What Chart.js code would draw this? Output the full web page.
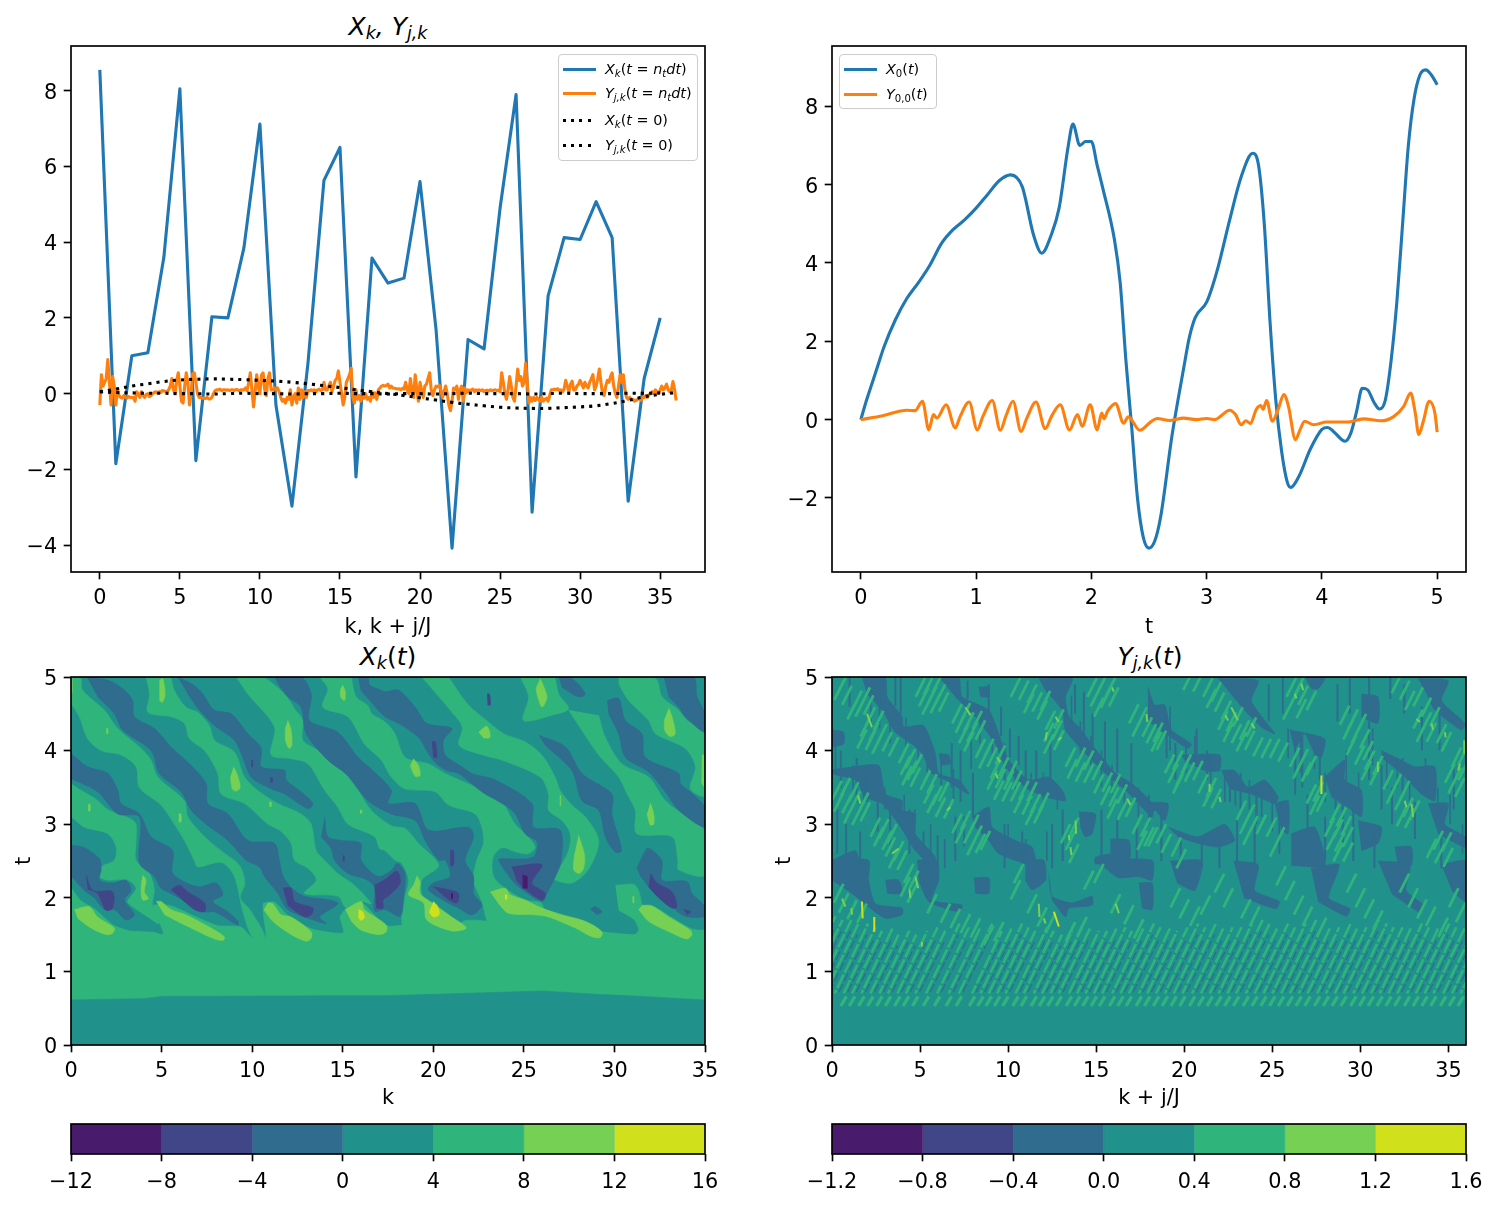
<!DOCTYPE html>
<html><head><meta charset="utf-8">
<script src="https://cdn.jsdelivr.net/npm/chart.js@4"></script>
<style>
html,body{margin:0;padding:0;background:#fff;width:1497px;height:1205px;overflow:hidden;font-family:"DejaVu Sans",sans-serif;color:#000}
canvas{position:absolute}
.ttl{position:absolute;font-size:25px;line-height:30px;text-align:center;white-space:nowrap;transform:translateX(-50%)}
.ttl sub,.lg sub{font-size:70%;line-height:0;vertical-align:-0.25em}
.box{position:absolute;box-sizing:border-box;background:rgba(255,255,255,.8);border:1.5px solid #ccc;border-radius:4px}
.lg{position:absolute;font-size:14.4px;line-height:16px;white-space:nowrap}
.hd{position:absolute;height:3px}
</style></head><body>
<div class="ttl" style="left:388px;top:12px"><i>X<sub>k</sub>, Y<sub>j,k</sub></i></div>
<div class="ttl" style="left:388px;top:642px"><i>X<sub>k</sub></i>(<i>t</i>)</div>
<div class="ttl" style="left:1150px;top:642px"><i>Y<sub>j,k</sub></i>(<i>t</i>)</div>
<script>
// ---------- top-left panel ----------
const xkFinal=[8.55,-1.85,1.0,1.08,3.6,8.05,-1.77,2.03,2.0,3.85,7.12,-0.3,-2.97,0.8,5.63,6.5,-2.2,3.58,2.92,3.05,5.6,1.7,-4.08,1.43,1.18,4.9,7.9,-3.13,2.58,4.12,4.07,5.07,4.12,-2.84,0.4,2.0];
const yjkFinal=[-.3,.5,.2,.3,.4,.9,.3,-.3,.45,.2,
-.3,.1,-.05,-.1,-.12,-.05,-.1,-.12,-.08,-.1,
-.1,-.1,-.2,.05,0,-.1,.05,-.05,-.1,-.02,
0,-.08,-.05,0,.03,.05,.02,.05,.03,.08,
.07,.06,.05,.1,.2,.4,.1,0,.35,.55,
.2,-.2,-.25,.2,.55,.3,-.3,0,.53,.55,
.3,0,-.1,-.1,-.12,-.12,-.13,-.1,-.14,-.14,
-.1,0,.08,.1,.1,.12,.08,.1,.1,.09,
.1,.08,.1,.1,.08,.11,.1,.08,.1,.1,
.1,.15,.08,.3,.55,.1,-.35,.05,.5,.2,
0,.5,.55,.1,-.05,.4,.55,.1,.1,.15,
.1,.15,.05,-.1,-.2,-.15,-.25,-.1,-.15,.1,
-.3,-.1,0,-.25,.15,-.15,.1,-.1,.05,-.1,
.08,.08,.1,.07,.1,.05,.1,.12,.08,.1,
.3,.1,.1,.2,.3,.05,.2,.35,.4,.6,
.3,0,-.3,-.1,.3,.4,.5,.67,-.1,-.25,
.1,-.15,-.05,-.2,-.1,-.12,0,-.15,-.1,-.2,
.05,-.1,.02,-.15,.1,.15,.2,.22,.2,.22,
.25,.15,.2,.15,.14,.13,.12,.13,.1,.14,
.12,.3,.1,0,.4,.05,-.1,.5,.1,-.2,
.3,.1,-.1,.2,.25,.4,.55,.1,-.05,.1,
.2,.18,.22,.1,-.1,.05,.2,0,-.3,-.45,
-.2,.15,.1,.2,-.15,.1,.2,-.2,.15,.02,
.1,.05,.1,.12,.05,.1,.07,.1,.08,.1,
.05,.08,.09,.07,.1,.08,.09,.1,.08,.09,
.05,.55,.3,0,-.15,.1,.45,.2,-.1,-.2,
.2,.65,.35,.45,.2,.3,.8,.3,-.25,-.1,
-.2,-.1,-.18,-.1,-.15,-.2,-.1,-.2,-.15,-.12,
-.2,-.05,.1,.1,.12,.1,.13,.08,.1,.05,
.12,.35,.2,.05,.25,.33,.1,.1,.2,.25,
.35,.25,.15,.3,.2,.15,.3,.4,.5,.1,
.2,.4,.65,.3,0,-.05,.2,.35,.3,.45,
.55,.2,0,-.1,.2,.5,.3,.5,.1,-.1,
-.15,-.1,-.15,-.15,-.2,-.18,-.15,-.12,-.18,-.1,
-.1,-.05,-.1,-.03,0,.05,0,.1,.05,0,
.1,.2,.1,.15,.25,.1,.05,.1,.32,.1,
-.18];
const xkInitial=[.05,.03,.02,.01,.01,0,0,-.01,0,.01,0,0,-.01,0,0,.01,0,0,-.01,0,0,-.01,0,.01,0,0,0,-.01,0,.01,0,0,0,.01,.01,.02];
const yjkInitial=[.05,.12,.2,.26,.32,.36,.38,.39,.38,.37,.35,.33,.3,.26,.21,.16,.1,.05,0,-.05,-.11,-.17,-.23,-.28,-.32,-.36,-.38,-.39,-.39,-.37,-.35,-.32,-.26,-.18,-.08,-.02,.03];
// ---------- top-right panel ----------
const tX0=[0,.05,.1,.15,.2,.3,.4,.5,.6,.7,.8,.9,1,1.1,1.2,1.3,1.4,1.5,1.57,1.65,1.72,1.8,1.84,1.9,1.95,2,2.05,2.1,2.2,2.25,2.3,2.35,2.4,2.45,2.5,2.55,2.6,2.7,2.8,2.85,2.9,3,3.05,3.1,3.2,3.3,3.4,3.45,3.5,3.55,3.6,3.65,3.7,3.73,3.8,3.9,4,4.05,4.1,4.2,4.25,4.3,4.35,4.4,4.45,4.5,4.55,4.6,4.65,4.7,4.75,4.8,4.85,4.9,4.95,5];
const x0Series=[0,.5,.95,1.4,1.85,2.55,3.1,3.5,3.95,4.5,4.85,5.1,5.4,5.75,6.1,6.25,5.95,4.7,4.25,4.7,5.4,7,7.55,7,7.1,7.1,6.5,5.9,4.6,3.5,1.5,-.2,-2,-3,-3.28,-3.1,-2.5,-.4,1.3,2.1,2.6,3,3.4,3.9,5.1,6.2,6.8,6.5,5,2.5,.5,-.8,-1.6,-1.73,-1.45,-.75,-.25,-.2,-.3,-.55,-.35,.2,.8,.75,.45,.27,.5,1.5,3,5,7,8.2,8.8,8.93,8.8,8.55];
const tY0=[0,.19,.4,.47,.535,.59,.63,.66,.74,.82,.86,.94,1.01,1.06,1.14,1.21,1.26,1.32,1.39,1.44,1.52,1.6,1.655,1.73,1.81,1.88,1.92,1.99,2.05,2.09,2.11,2.14,2.21,2.28,2.32,2.42,2.51,2.57,2.68,2.8,2.91,3,3.07,3.2,3.25,3.3,3.34,3.38,3.43,3.47,3.49,3.52,3.57,3.62,3.67,3.71,3.77,3.81,3.85,3.93,4.04,4.22,4.36,4.51,4.62,4.71,4.77,4.81,4.84,4.88,4.93,4.98,5];
const y0Series=[0,.1,.24,.23,.47,-.26,.13,.04,.38,-.21,.07,.45,-.26,.09,.49,-.27,.1,.47,-.3,.04,.45,-.23,.09,.38,-.26,.13,-.17,.38,-.26,.17,.02,.21,.41,-.09,.07,-.27,-.07,.03,-.02,.04,0,.03,0,.24,.13,-.13,-.03,-.1,.26,.36,.26,.49,-.04,.26,.64,.34,-.51,-.26,-.04,-.13,-.06,-.06,.02,-.03,.07,.34,.68,.17,-.38,-.04,.47,.17,-.32];
// ---------- ticks and colour scale ----------
const ticksTLx=[0,5,10,15,20,25,30,35], ticksTLy=[-4,-2,0,2,4,6,8];
const ticksTRx=[0,1,2,3,4,5], ticksTRy=[-2,0,2,4,6,8];
const ticksKt=[0,1,2,3,4,5];
const levelsX=[-12,-8,-4,0,4,8,12,16];
const levelsY=[-1.2,-.8,-.4,0,.4,.8,1.2,1.6];
const levelLabelsY=['−1.2','−0.8','−0.4','0.0','0.4','0.8','1.2','1.6'];
const viridisBands=['#481b6d','#404688','#2f6c8e','#21918c','#2fb47c','#75d054','#d0e11c'];
const [cD,cI,cB,cT,cG,cL,cY]=viridisBands;
// ---------- X_k(t) contour regions (k,t pairs) ----------
const xAll=[0,0,35,0,35,5,0,5];
const xTealUpper=[0,2.15,.55,1.97,1.29,1.86,1.84,1.74,2.39,1.63,3.22,1.56,4.6,1.54,5.06,1.51,4.88,1.65,4.5,1.9,5.52,1.9,7,1.74,8.1,1.63,9.39,1.61,10.04,1.46,10.72,1.46,10.6,1.74,10.6,1.93,11.23,1.95,11.97,1.77,13.26,1.59,15,1.53,14.82,1.74,15.19,1.86,16,1.95,17.4,1.63,18.63,1.65,18.9,1.68,19.55,1.7,21,1.59,21.76,1.7,23.23,1.7,23.14,1.83,23.6,1.74,26.18,1.77,27.65,1.65,29.31,1.55,31.15,1.51,31.34,1.59,31.24,1.83,32.07,1.9,33.18,1.74,34.28,1.585,35,1.585,35,5,0,5];
const xTealLower=[0,0,35,0,35,.61,33,.64,31.15,.665,29,.69,26,.734,22.9,.71,17.34,.67,15,.67,5,.66,4,.63,0,.612];
const gA=[0,3.55,.55,3.46,1.38,3.34,2.03,3.2,3.22,3.08,3.59,3,3.59,2.74,3.59,2.51,4.33,2.33,4.6,2.11,4.5,1.9,4.88,1.65,4.24,1.74,3.4,1.88,3.13,1.95,3.59,2.13,3.13,2.24,2.03,2.24,1.57,2.29,1.66,2.42,2.39,2.51,2.49,2.69,2.03,2.87,.74,2.96,0,3.1];
const gB=[0,5,.52,5,.64,4.82,1.84,4.55,2.58,4.3,3.87,4.03,4.42,3.87,4.79,3.64,6.26,3.32,6.45,3.1,7.37,2.83,8.29,2.64,9.3,2.44,9.6,2.2,9.35,2,9.9,1.83,10.72,1.46,10.04,1.46,9.5,1.8,9,2.3,8.3,2.48,7,2.42,6.8,2.51,6.26,2.78,5.7,3,4.97,3.26,3.77,3.5,3.59,3.78,2.76,3.94,1.66,4,.92,4.16,.46,4.46,0,4.64];
const gC=[4.14,5,4.33,4.77,4.24,4.52,5.52,4.46,6.26,4.37,6.54,4.16,7.37,4,8.1,3.69,8.29,3.41,9.58,3.28,10.87,3,11.5,2.92,12.15,2.74,12.34,2.51,13.08,2.4,13.54,2.24,12.89,2.06,14.73,2.02,15.19,1.86,16,1.95,16.57,1.92,15.65,2.17,14.73,2.33,14,2.51,13.54,2.64,13.26,3,12.7,3.14,11.42,3.28,10.3,3.46,9.58,3.64,9.02,3.98,7.92,4.14,7.64,4.34,7,4.52,6.35,4.59,5.7,4.82,5.52,5];
const gD=[9.12,5,9.76,4.77,11.23,4.32,11.05,3.94,12.15,3.89,13.08,3.82,14,3.46,14.73,3.23,15.29,3,16.76,2.83,17.03,2.67,17.34,2.64,17.89,2.51,18.26,2.47,18.63,2.24,18.44,2,18.4,1.6,21.76,1.55,20.1,1.74,19.46,1.97,19.37,2.24,20.3,2.44,19.18,2.74,18.44,2.94,17.68,2.98,16.57,3.19,15.84,3.46,14.73,3.8,13.81,3.98,12.8,4.14,12.8,4.41,12.34,4.57,11.79,4.77,10.77,4.98,10.6,5];
const gE=[13.72,5,14.18,4.84,13.9,4.59,15.29,4.46,16.2,4.09,17.13,3.87,17.68,3.64,18.44,3.48,20.1,3.44,20.84,3.26,22.31,3.14,22.68,2.96,22.77,2.74,22.4,2.51,22.22,2.24,22.68,1.95,23.23,1.6,26,1.6,26,1.92,25.07,1.97,23.97,2.13,23.33,2.29,23.3,2.55,23.8,2.68,24.6,2.62,25.26,2.6,25.63,2.69,25.07,2.87,24.52,3,23.6,3.37,22.31,3.51,20.66,3.69,19.73,3.82,18.44,3.91,17.89,4.23,17.34,4.39,16.6,4.5,16.39,4.61,15.74,4.73,15.47,5];
const gF=[19.37,5,20,4.82,20.93,4.55,21.6,4.32,21.43,4.07,22.87,3.93,23.8,3.87,25.9,3.64,26.36,3.41,26.36,3.19,27.1,3.05,27.56,2.87,27.47,2.64,26.9,2.38,26.55,2.27,27.65,2.2,28.6,2.4,29.13,2.78,28.39,3.1,27.65,3.26,27,3.46,26.73,3.64,25.99,3.94,25.07,4.12,23.88,4.23,23.05,4.39,21.94,4.62,20.84,5];
const gG=[24.8,5,25.26,4.73,24.98,4.41,26.55,4.48,27.47,4.57,26.92,4.77,26.73,5];
const gH=[27.47,4.55,28,4.35,29.13,3.94,30.23,3.64,30.7,3.41,31.15,3.19,31.24,2.87,33.18,2.83,33.5,2.51,33.55,2.38,35,2.31,35,2.9,34.28,3.05,32.81,3.32,31.89,3.64,30.41,3.82,29.5,4.18,29.13,4.48];
const gI=[30.23,5,32.26,4.98,32.63,4.73,33.55,4.55,34.01,4.41,35,4.25,35,3.39,34.19,3.48,34.47,3.78,33.91,4.03,32.26,4.23,31.89,4.41,30.78,4.68,30.23,4.91];
const gJ=[30.05,2.17,31.15,2.17,31.5,1.9,31.4,1.56,31.1,1.7,30.23,1.83];
const bA=[.88,5,2.12,4.95,2.95,4.82,3.4,4.68,3.5,4.46,4.6,4.3,5.52,4.05,6.54,3.82,7.46,3.55,7.55,3.28,8.66,3.14,9.76,2.78,11.23,2.74,11.5,2.51,11.7,2.3,12.15,2.14,12.89,2.02,14.27,1.97,14.73,1.92,13.72,1.74,14.09,1.65,12.89,1.74,11.97,1.84,11.42,2.06,10.68,2.29,10.4,2.42,9.67,2.51,8.66,2.78,7.46,3,6.63,3.19,6.08,3.44,4.88,3.69,4.42,4,2.85,4.28,2.39,4.5,1.47,4.73];
const bB=[0,3.96,.92,3.78,2.03,3.69,2.58,3.46,2.76,3.28,3.78,3.14,4.42,2.83,5.62,2.64,5.62,2.33,7,2.15,8.01,2.2,8.38,2.04,7.83,1.95,8.66,1.81,9.21,1.68,9.21,1.63,7.92,1.81,7.37,1.81,5.52,2.06,4.97,2.13,4.6,2.29,3.78,2.47,3.78,3.1,2.58,3.14,1.47,3.44,0,3.62];
const bC=[0,2.71,.64,2.69,1.57,2.53,1.66,2.38,1.57,2.24,2.3,2.2,3.04,2.24,3.31,2.1,2.95,1.97,3.5,1.77,3.04,1.7,2.39,1.84,1.84,1.84,1.29,2,.74,2.1,0,2.3];
const bD=[15.84,5,16.39,5,16.48,4.89,17.13,4.82,17.34,4.8,18.08,4.82,19,4.59,19.64,4.37,21.02,4.3,20.56,4.14,20.66,3.94,21.58,3.78,22.13,3.69,23.42,3.6,25.44,3.28,25.53,2.96,27,2.92,27.06,2.51,26.82,2.33,26.27,2.06,26,1.95,24.71,2.15,24.25,2.27,23.6,2.51,23.7,2.53,25.5,2.55,25.73,2.76,25.07,2.87,24.43,3.17,22.68,3.44,21.4,3.69,20.75,3.73,20.1,3.84,19.73,3.96,19.18,4.18,18.08,4.37,17.34,4.46,16.57,4.66,16,4.82];
const bE=[11.23,5,12.7,5,13.26,4.77,13.17,4.41,14.73,4.25,15.84,3.91,16.57,3.75,17.68,3.46,17.52,3.28,19,3.28,19.73,2.92,21.94,2.96,22.22,2.83,21.76,2.51,22.22,2.29,22.22,2.06,22.68,1.9,22.13,1.77,21.39,1.86,20.66,1.95,19.73,2.11,20,2.2,20.93,2.29,20.66,2.51,20.3,2.51,19.55,2.78,19,3.05,17.68,3.14,16.39,3.32,15.29,3.66,14.18,3.87,12.98,4.23,12.7,4.59,11.97,4.73,11.42,4.91];
const bF=[5.89,5,6.63,4.91,7.18,4.8,7.92,4.55,8.84,4.5,9.76,4.23,10.5,4.03,10.5,3.78,11.79,3.73,11.88,3.6,12.7,3.44,13.35,3.28,13.08,3.21,11.79,3.41,10.87,3.5,9.94,3.64,9.48,3.91,9.02,4.14,7.92,4.34,7.09,4.55,6.45,4.77];
const bG=[14,3.1,14.18,2.83,14.92,2.78,16,2.74,16.02,2.51,16.94,2.29,17.68,2.37,18,2.47,18.44,2.33,18.35,2,18.17,1.75,17.34,1.84,16.76,1.82,16.76,2.14,16.3,2.25,15.29,2.33,14.55,2.51,14.36,2.67,13.81,2.83];
const bH=[26.92,5,27.65,4.98,28.39,4.77,28,4.73,27.1,4.86];
const bI=[29.59,4.68,30.23,4.71,30.6,4.41,31.52,4.23,31.7,3.91,33.55,3.69,33.65,3.55,34.19,3.44,35,3.23,35,2.96,33.55,3.19,32.81,3.44,31.89,3.71,30.6,3.91,30.23,4.23,29.68,4.5];
const bJ=[32.72,5,34.37,5,34.56,4.73,35,4.5,35,4.25,33.91,4.46,33.55,4.59,33,4.73];
const bK=[25.81,4.21,27.3,4.05,28.2,3.69,29.86,3.41,29.86,3.14,30.4,2.64,30.05,2.62,29.5,2.83,29.13,3.19,28.2,3.32,27.65,3.73,26.18,4.07];
const bL=[31.24,2.4,31.79,2.67,32.07,2.65,32.63,2.5,32.63,2.24,34,2.22,34.28,2.06,34.93,1.9,35,1.75,33.9,1.75,33.18,1.88,32.07,2.1,31.42,2.3];
const bM=[28.67,1.84,28.94,1.88,29.31,1.81,29.03,1.77];
const dks=[[.83,2.31,1.2,2.1,2.3,2.08,2.3,1.86,1.93,1.83,1.47,2.06,.92,2.12],[5.52,2.11,5.99,2.17,6.45,2.08,7.37,1.93,7.37,1.81,6.81,1.84,6.17,1.97],[11.7,2.13,12.15,2.13,12.34,1.95,13.35,1.86,13.26,1.77,12.89,1.74,11.97,1.9],[16.76,2.17,17.34,2.25,18,2.36,18.17,2.2,17.5,2.02,17.22,1.97,17.22,1.86,16.85,1.86],[20,2.15,20.84,2.11,21.39,2.06,21.3,1.93,20.84,1.97],[24.34,2.42,26,2.45,25.44,2.2,26.18,2.06,26,1.97,25,2.13,24.6,2.24],[32,2.33,32.35,2.2,33.18,2.08,33.45,1.88,33.18,1.86,32.44,2,31.89,2.15],[33.82,1.84,34.2,1.81,34,1.77],[22.97,4.77,23.1,4.77,23.15,4.62,23,4.62],[19.92,4.12,20.1,4.12,20.2,3.91,20,3.91],[20.93,2.64,21.11,2.64,21.11,2.44,20.93,2.44],[11,3.64,11.12,3.62,11.1,3.56,11,3.58],[9.95,3.87,10.02,3.87,10.02,3.78,9.95,3.78],[15,2.57,15.08,2.57,15.08,2.5,15,2.5]];
const purples=[[24.93,2.31,25.17,2.29,25.17,2.13,24.93,2.13],[20.98,2.06,21.05,2.06,21.05,1.99,20.98,1.99]];
const lights=[[4.88,4.95,5.06,4.98,5.19,4.77,5.06,4.66,4.88,4.68],[15,4.89,15.14,4.8,15.1,4.68,14.88,4.73,14.88,4.84],[11.97,4.41,12.15,4.28,12.19,4.07,12.03,4.03,11.84,4.14,11.84,4.32],[8.97,3.78,9.15,3.69,9.34,3.5,9.12,3.45,8.9,3.48,8.8,3.64],[1.95,4.3,2.03,4.3,2.03,4.23,1.95,4.23],[.95,3.27,1.05,3.27,1.05,3.18,.95,3.18],[10.95,3.3,11.05,3.3,11.05,3.24,10.95,3.24],[5.95,3.14,6.07,3.14,6.07,3.03,5.95,3.03],[15.95,3.19,16.05,3.19,16.05,3.15,15.95,3.15],[0,5,.06,5,.06,4.78,0,4.78],[3.96,2.31,4.14,2.24,4.05,2.08,4.27,1.99,3.96,1.97,3.87,2.08,3.9,2.24],[.18,1.84,1.01,1.88,1.47,1.74,2.39,1.59,2.3,1.52,1.93,1.5,1.1,1.59,.37,1.72],[4.7,1.95,4.97,1.95,5.52,1.84,6.35,1.77,7.73,1.59,8.47,1.47,8.38,1.42,7.83,1.45,6.45,1.61,5.16,1.77],[10.87,1.93,11.14,1.92,11.6,1.77,12.15,1.74,13.26,1.54,13.26,1.45,12.98,1.41,12.15,1.5,11.14,1.68,10.64,1.84],[15.14,1.84,16.02,1.95,16.2,1.84,17.4,1.63,17.4,1.54,17.03,1.5,16.02,1.56,15.47,1.68],[19.09,2.3,19.27,2.22,19.27,2.06,19.83,1.95,21.02,1.74,21.82,1.59,21.02,1.55,19.64,1.7,19.46,1.93,18.63,2.04,18.9,2.17],[23.14,2.08,23.97,2.13,24.25,2.04,25.07,1.97,26,1.86,27.1,1.77,28.39,1.68,29.31,1.54,29.22,1.46,28.76,1.47,27.84,1.59,26.36,1.74,25.53,1.77,24.15,1.79,23.6,1.92],[31.52,1.9,32.07,1.89,33,1.74,34.19,1.56,34.28,1.5,34.01,1.44,33.18,1.52,31.89,1.68,31.34,1.84],[25.9,4.98,26.18,4.82,26.27,4.71,26,4.59,25.72,4.77,25.68,4.86],[22.5,4.25,22.96,4.33,23.14,4.18,22.77,4.17],[18.9,3.89,19.18,3.8,19.27,3.66,19,3.65,18.72,3.8],[33,4.58,33.18,4.46,33.36,4.23,33.08,4.19,32.77,4.28,32.77,4.43],[31.98,3.29,32.17,3.14,32.17,3,31.98,2.99,31.8,3.14],[34.83,3.94,35,3.94,35,3.5,34.8,3.57],[28.02,2.85,28.35,2.58,28.3,2.4,28.05,2.33,27.75,2.38,27.8,2.6],[26.98,3.39,27.03,3.39,27.03,3.25,26.98,3.25],[31,2.02,31.07,2.02,31.07,1.93,31,1.93]];
const yellows=[[15.87,1.84,16.1,1.81,16.2,1.74,16.02,1.69,15.87,1.74],[20,1.95,20.25,1.88,20.32,1.77,20,1.74,19.77,1.81],[23.96,2.04,24.05,2.04,24.05,1.98,23.96,1.98]];
const xGreens=[gA,gB,gC,gD,gE,gF,gG,gH,gI,gJ], xBlues=[bA,bB,bC,bD,bE,bF,bG,bH,bI,bJ,bK,bL,bM];
// ---------- Y_{j,k}(t) contour regions (k+j/J, t pairs) ----------
const yBlues=[[1.7,5,3.03,4.98,3.13,4.73,3.98,4.46,4.07,4.32,5.2,4.34,5.87,3.96,6.06,3.69,7.2,3.6,7.77,3.41,6.44,3.6,5.68,3.69,5.11,3.96,4.55,4.09,3.6,4.25,2.84,4.55,1.99,4.77],
[6.06,5,7.2,5,7.39,4.73,8.9,4.55,9.47,4.23,10.04,3.87,11.17,3.6,12.31,3.64,13.07,3.46,13.26,3.32,12.12,3.37,10.98,3.5,9.85,3.78,9.28,4.09,8.14,4.46,7,4.73],
[11.74,4.98,13.64,4.98,13.26,4.73,13.45,4.46,14.02,4.32,15.15,3.96,16.1,3.69,17.05,3.55,18.18,3.28,18.18,3.1,16.67,3.46,15.53,3.69,14.39,3.96,13.26,4.28,13.07,4.55,12.12,4.82],
[0,4.28,.66,4.25,.66,4.09,0,4.05],
[1.14,3.78,2.65,3.8,3.03,3.41,3.98,3.32,3.98,3.19,4.73,3.14,4.73,2.87,5.87,2.55,5.68,2.44,4.73,2.64,3.79,3,2.84,3.28,1.89,3.37,1.33,3.6,0,3.69,.09,3.75],
[7.95,3.1,8.9,3.23,9.09,2.96,10.42,2.78,11.36,2.69,11.55,2.44,9.47,2.6,8.9,2.78,8.14,2.96],
[14.02,3.17,14.96,3.14,14.77,2.87,14.39,2.83,14.11,2.96],
[15.81,2.8,16.86,2.78,16.86,2.51,14.96,2.46,14.96,2.55,15.81,2.6],
[0,2.51,1.33,2.64,1.52,2.44,0,2.42],
[6.06,3.96,6.63,3.94,6.72,3.82,6.16,3.8],
[8.33,4.86,8.9,4.86,8.9,4.73,8.43,4.73],
[17.94,4.86,18.32,4.62,18.89,4.62,19.27,4.28,20.4,4.09,20.21,4.03,19.08,4.21,17.94,4.41],
[21.92,4.98,24.19,4.95,23.81,4.68,24.57,4.41,25.14,4.23,24.38,4.32,23.43,4.55,22.49,4.82],
[26.84,5,27.98,4.98,27.6,4.84,27.22,4.84],
[30.06,4.77,31,4.73,31,4.37,30.06,4.46],
[25.99,4.28,27.98,4.16,27.79,3.91,27.41,3.96,26.84,4.23,26.27,4],
[33.28,4.98,34.99,4.95,34.61,4.68,35.93,4.37,35.74,4.28,34.23,4.55,33.85,4.73],
[31.2,4,32.33,3.87,33.09,3.78,34.23,3.78,34.23,3.32,33.47,3.41,32.33,3.69,31.2,3.91],
[19.83,3.94,22.01,3.94,22.01,3.73,21.16,3.73,20.02,3.87],
[22.1,3.73,22.86,3.73,23.62,3.5,24.57,3.6,25.33,3.37,25.14,3.28,23.81,3.41,22.58,3.48],
[27.98,3.64,29.11,3.87,29.11,3.6,30.06,3.46,30.06,3.1,29.3,3.23,28.36,3.37],
[17.94,3.3,19.08,3.28,18.9,3.05,18.32,3.19,17.94,3],
[19.08,2.96,20.78,2.83,22.3,3,22.86,2.78,21.92,2.69,20.78,2.74,19.64,2.83],
[25.14,3.28,25.9,3.32,25.9,2.87,25.52,2.92],
[29.87,3.05,31.2,2.96,31,2.74,30.06,2.64],
[33.85,3.28,34.99,3.28,34.8,3,35.93,2.83,35.93,2.69,34.42,2.87],
[26.08,2.87,27.41,2.96,27.98,2.44,26.08,2.44],
[31.95,2.69,32.9,2.69,32.9,2.44,32.14,2.44],
[0,2.51,2.08,2.51,2.08,2.24,2.46,1.92,3.98,1.86,3.98,1.77,3.03,1.72,2.27,1.84,1.14,2.06,0,2.24],
[3.03,2.24,3.79,2.24,3.98,2.06,3.13,2.06],
[4.83,2.51,5.97,2.51,6.06,2.24,5.68,1.97,7.39,1.9,7.2,1.81,5.49,1.95,4.92,2.24],
[8.05,2.27,8.9,2.27,8.9,2.06,8.14,2.06],
[10.98,2.51,12.03,2.51,12.12,2.24,11.36,2.11,10.98,2.24],
[12.31,2.33,12.5,2.02,13.64,1.93,14.77,2.02,14.77,1.9,13.45,1.86,13.26,1.74,12.5,1.97],
[14.96,2.51,18.18,2.51,18.18,2.24,17.42,2.29,16.29,2.27,15.72,2.36],
[17.42,2.2,18.18,2.2,18.18,1.84,17.6,1.86],
[19.2,2.5,21,2.5,20.6,2.1,19.6,2.2],
[22.8,2.5,24.2,2.45,24,2.1,25.4,1.95,25.2,1.85,23.4,2],
[27.2,2.4,28.8,2.45,28.2,2,29.4,1.85,29.2,1.75,27.6,1.95],
[31,2.5,32.8,2.45,32.6,2.1,33.6,1.9,33.4,1.8,31.8,2.05],
[34.6,2.45,36,2.5,36,1.95,35.2,2.1]];
const streakK=[3.9,3.6,7.7,8.9,9.6,10.1,10.6,11,11.6,12.4,6.8,7.3,8,13.8,14.3,14.8,15.5,16.2,17,1,.5,1.4,2,.3,.8,1.6,2.6,3.3,4.4,5.2,6,7,9.8,10.8,12.5,13.1,15.3,16.2,17.3,19,19.5,20.7,21.3,22.6,23.2,24.1,25.4,26.3,26.7,27.7,28.6,29,29.6,30.5,31.2,31.8,32.4,33.1,34.6,35.3,18.7,19.8,21,22,23,24,27,28,30.8,33.5,34.5,24.8,25.6,28.7,29.4,30.5,31.7,32.5];
const streakLo=[4.5,4.6,4.7,4.5,4.2,3.9,3.8,3.6,3.5,3.6,3.5,3.3,3.1,4.5,4.2,4,3.8,3.7,3.5,4.6,3.5,3.3,3.3,2.6,2.5,2.4,2.9,2.7,2.6,2.4,2.44,2.5,2.4,2.4,2.4,2.5,2.4,2.45,2.4,3.9,3.6,3.9,3.6,3.3,3.2,3,2.6,3.4,3.5,3.6,3.2,2.7,2.5,3.6,3.2,3,3.4,2.8,2.4,3.2,2.5,2.4,2.4,2.4,2.5,2.4,2.6,2.5,2.4,4,4,4.4,4.5,4.4,4.5,4.7,4.7,4.5];
const streakHi=[5,5,4.95,4.9,4.6,4.3,4.2,4,4,4.1,4.1,4,3.7,4.9,4.8,4.5,4.4,4.3,4.1,5,4,3.9,3.8,3.2,3,2.9,3.3,3.2,3.2,2.9,2.85,3.1,3,2.9,3,3.2,3.2,3.1,3,4.5,4.1,4.3,4,3.7,3.7,3.5,3.3,4.1,4.2,4.2,3.7,3.4,3.2,4.4,3.8,3.5,3.9,3.3,3.2,3.8,3.1,2.9,2.8,2.9,3.1,3,3.4,3.1,3,4.6,4.5,4.9,5,4.9,5,5,5,4.9];
const streakFineK=[2.2,2.7,3.3,4.2,4.9,5.4,6.2,6.9,7.9,8.4,9.1,9.8,10.4,11.3,12,12.8,13.6,14.1,14.7,15.3,15.9,16.6,17.4,18,19.2,20.1,20.6,21.5,22.3,22.9,23.7,24.4,25,25.9,26.6,27.4,28,29.2,29.9,30.7,31.5,32.1,32.8,33.7,34.4,35.1,35.8,.2,1.2,1.8,3,4.1,4.7,5.6,6.4,7.5,8.7,10,11,12.2];
const streakFineLo=[4.35,4.3,4.1,4,3.8,3.7,3.5,3.3,3.75,4.1,3.95,3.6,3.45,3.3,3.3,3.2,4.35,3.95,3.8,3.5,3.4,3.25,3.1,3,4,3.7,3.8,3.5,3.3,3.25,3.2,3.1,2.9,3.9,3.7,3.75,3.3,3.5,3.3,3.8,3.5,3.5,3.2,3.4,3.1,3,2.6,3.7,3.4,3.3,3.2,3.1,2.9,2.6,2.4,2.7,2.8,2.6,2.45,2.5];
const streakFineHi=[4.8,4.7,4.5,4.45,4.25,4.1,3.95,3.75,4.3,4.55,4.4,4.1,3.8,3.7,3.7,3.5,4.75,4.4,4.2,4,3.8,3.6,3.5,3.4,4.6,4.1,4.2,3.9,3.7,3.6,3.6,3.4,3.3,4.3,4.2,4.1,3.7,4,3.7,4.3,3.9,3.9,3.6,3.9,3.5,3.4,3,4.2,3.8,3.7,3.5,3.4,3.2,3,2.8,3.1,3.2,3,2.8,2.9];
const dashK=[.4,.85,.6,1.42,1.89,1.14,1.6,2.08,2.18,2.65,1.89,2.37,1.7,2.18,2.84,2.56,3.13,3.5,4.07,4.45,4.17,4.55,4.26,4.73,4.83,5.3,5.68,5.49,5.97,6.34,5.68,6.16,6.63,7.1,7.58,8.05,7.29,7.77,8.24,7.95,8.43,8.71,5.02,5.49,5.97,5.21,5.68,6.16,5.4,5.87,6.34,7.1,7.58,7.29,7.77,8.24,7.48,7.95,8.43,7.77,8.43,8.9,8.62,9.09,9.56,9.28,9.75,10.23,9.09,9.56,10.04,10.5,9.47,9.94,10.42,10.89,11.36,10.6,11.08,11.55,12.03,11.27,11.74,10.42,10.89,11.36,11.17,11.65,12.12,11.93,12.4,12.88,12.31,12.78,12.31,12.88,13.54,14.11,14.58,13.64,14.11,14.58,15.06,15.15,15.63,16.1,15.53,16,16.48,15.91,16.48,16.95,17.33,17.8,17.61,18,14.77,15.34,15.81,14.96,15.53,16,15.15,17.14,17.61,17.33,17.9,.28,.76,1.23,.38,.85,1.33,1.8,.95,1.42,1.89,2.46,2.94,2.65,3.13,3.41,3.31,3.79,3.5,3.98,13.73,13.54,13.73,13.26,
18.13,18.51,18.41,18.7,20.21,20.78,21.35,21.82,21.54,22.01,22.39,22.2,22.67,23.05,22.49,22.96,23.43,23.81,23.24,23.72,24.19,24.66,25.14,25.61,26.08,26.56,26.27,26.75,27.22,25.89,26.65,26.27,26.75,27.22,26.46,26.94,29.11,29.59,30.06,29.3,29.78,30.25,29.49,30.44,29.97,30.53,31,30.34,30.82,31.58,32.05,32.52,31.77,32.24,32.71,32.33,32.81,33.09,32.05,32.52,32.81,33.28,33.75,33.28,33.75,34.23,33.47,34.04,34.61,34.89,35.08,35.46,35.84,35.27,35.65,19.17,19.64,20.12,19.36,19.83,20.31,20.78,19.64,21.07,21.54,21.35,21.82,23.24,23.72,23.43,23.9,24.38,23.62,24.95,25.42,25.14,27.22,27.6,27.41,27.79,28.55,28.92,28.26,28.74,29.21,28.36,28.83,29.3,28.74,29.3,34.42,34.9,34.51,34.99,34.04,18.22,18.7,18.98,19.55,19.83,35.46,35.84,
.38,.66,1.14,1.7,4.36,4.64,4.17,4.55,5.68,6.44,7,7.58,8.14,8.9,9.47,10.6,10.42,11.36,11.93,12.4,13.54,14.2,14.58,15.15,16.1,16.86,17.42,19.5,20,20.6,21.2,22,22.5,23.5,24,25.5,26,26.5,27,27.8,29.5,30,30.5,31,32.5,33,33.5,34,34.7,35.3,35.7];
const dashT=[4.82,4.75,4.91,4.68,4.73,4.55,4.59,4.62,4.46,4.41,4.32,4.25,4.16,4.14,4.23,4.09,4.12,4.05,3.96,3.89,3.8,3.73,3.66,3.64,3.82,3.6,3.55,3.41,3.39,3.44,3.28,3.23,3.21,3.01,3.05,3,2.87,2.87,2.85,2.71,2.74,2.78,4.86,4.89,4.91,4.73,4.75,4.77,4.62,4.64,4.66,4.5,4.52,4.37,4.39,4.41,4.23,4.25,4.28,4.12,4.03,4.03,3.89,3.91,3.94,3.75,3.78,3.73,3.6,3.62,3.6,3.6,3.46,3.44,3.44,3.46,3.44,3.28,3.26,3.28,3.3,3.12,3.14,4.86,4.82,4.77,4.64,4.66,4.68,4.55,4.41,4.43,4.25,4.28,4.09,4.14,3.91,3.91,3.87,3.75,3.71,3.69,3.73,3.55,3.57,3.55,3.39,3.37,3.41,3.21,3.19,3.23,3,2.96,2.78,2.83,4.86,4.91,4.86,4.73,4.71,4.73,4.59,4.5,4.46,4.32,4.32,3.46,3.5,3.44,3.3,3.28,3.32,3.3,3.14,3.12,3.17,2.96,2.94,2.83,2.78,2.87,2.69,2.64,2.53,2.51,2.96,2.78,2.6,2.87,
4.23,4.25,4.12,4.14,4.95,4.93,4.86,4.8,4.71,4.66,4.55,4.41,4.39,4.46,4.25,4.23,4.28,4.32,4.12,4.14,4.05,4.03,4.03,3.98,4.86,4.89,4.73,4.75,4.68,4.55,4.57,3.91,3.89,3.8,3.75,3.71,4.48,4.43,4.37,4.28,4.23,4.16,4.07,4,3.94,3.87,3.8,3.73,3.66,3.6,3.55,3.46,3.41,3.32,3.23,3.1,3.08,3.19,4.91,4.82,4.68,4.73,4.59,4.43,4.39,4.46,4.25,4.25,4.23,4.12,3.69,3.64,3.73,3.55,3.5,3.82,3.87,3.82,3.69,3.66,3.71,3.73,3.55,3.55,3.5,3.37,3.35,3.19,3.14,3,2.98,3,2.85,2.96,2.83,2.69,3.41,3.44,3.26,3.3,3.14,3.1,2.96,2.94,2.98,2.78,2.76,2.83,2.62,2.62,2.78,2.76,2.6,2.55,2.67,2.83,2.87,2.74,2.69,2.53,3.91,3.94,
2.06,1.93,1.84,1.79,2.33,2.24,2.15,2.06,1.92,1.79,1.72,1.65,1.59,1.49,1.54,2.33,2.11,1.92,1.74,1.65,1.54,1.61,2.24,2.33,1.92,1.77,1.58,2,1.85,1.75,1.9,2.2,2,1.85,1.75,2.3,2.1,1.9,1.75,1.6,2.2,2,1.85,1.7,2.2,2,1.85,1.75,1.6,2,1.8];
const brightSegs=[[1.99,4.5,2.27,4.32],[7.58,4.59,7.86,4.48],[9.37,3.91,9.56,3.84],[9.28,3.69,9.43,3.62],[15.9,4.86,16,4.8],[12.69,4.46,12.88,4.39],[12.2,4.25,12.12,4.14],[12.84,4.14,13.03,4.18],[16.76,3.35,16.95,3.26],[6.53,3.19,6.72,3.23],[1.48,3.39,1.61,3.28],[13.83,3.05,13.86,2.87],[13.45,2.85,13.48,2.78],[13.54,2.69,13.6,2.58],[3.41,2.6,3.79,2.67],[17.86,4.5,17.9,4.39],[22.67,4.59,23.05,4.41],[22.33,4.48,22.49,4.41],[23.81,4.37,24,4.3],[26.27,4.77,26.37,4.71],[26.65,4.91,26.75,4.82],[31,3.85,31,3.71],[32.52,3.32,32.62,3.23],[32.9,3.28,33,3.1],[33.19,4.43,33.38,4.39],[34.04,4.37,34.13,4.28],[34.8,4.25,34.84,4.18],[35.65,3.82,35.56,3.73],[35.9,4.14,35.9,3.96],[21.44,3.55,21.44,3.44],[22,3.37,22.07,3.3],[.57,1.99,.76,1.88],[1.1,1.86,1.14,1.77],[4.4,2.11,4.45,2],[4.73,2.29,4.89,2.13],[5.11,1.4,5.11,1.34],[11.74,1.92,11.78,1.74],[12.03,1.72,12.12,1.65],[16.1,1.92,16.29,1.79]];
const yellowSegs=[[1.7,1.95,1.74,1.72],[2.4,1.74,2.4,1.54],[12.6,1.81,12.88,1.61],[27.79,3.66,27.79,3.41]];
const stripeK0=[-2.4,-1.9,-1.4,-.9,-.4,.15,.66,1.14,1.67,2.18,2.69,3.18,3.71,4.2,4.73,5.34,5.97,6.63,7.2,7.95,8.43,8.9,9.38,9.85,10.42,10.89,11.46,11.93,12.4,12.88,13.45,13.92,14.39,14.87,15.34,15.91,16.38,16.86,17.42,17.9,18.4,18.9,19.4,19.9,20.45,20.95,21.45,21.95,22.45,22.95,23.5,24,24.5,25,25.5,26,26.5,27,27.55,28.05,28.55,29.05,29.6,30.1,30.6,31.1,31.6,32.1,32.65,33.15,33.65,34.15,34.7,35.2,35.7];
const stripeTop=[1.8,1.75,1.7,1.7,1.65,1.65,1.6,1.55,1.6,1.5,1.55,1.5,1.55,1.6,1.55,1.65,1.6,1.6,1.65,1.55,1.6,1.65,1.6,1.55,1.6,1.55,1.5,1.55,1.6,1.6,1.55,1.55,1.6,1.6,1.55,1.6,1.65,1.6,1.6,1.55,1.6,1.65,1.6,1.65,1.6,1.6,1.6,1.65,1.7,1.65,1.6,1.65,1.6,1.65,1.7,1.6,1.6,1.6,1.65,1.6,1.6,1.7,1.65,1.6,1.6,1.6,1.65,1.6,1.6,1.65,1.6,1.6,1.65,1.6,1.55];
const blobK=[.66,1.14,1.67,2.18,2.69,3.18,3.71,4.2,4.73,5.34,5.97,6.63,7.2,7.95,8.43,8.9,9.38,9.85,10.42,10.89,11.46,11.93,12.4,12.88,13.45,13.92,14.39,14.87,15.34,15.91,16.38,16.86,17.42,17.9,18.4,18.9,19.4,19.9,20.45,20.95,21.45,21.95,22.45,22.95,23.5,24,24.5,25,25.5,26,26.5,27,27.55,28.05,28.55,29.05,29.6,30.1,30.6,31.1,31.6,32.1,32.65,33.15,33.65,34.15,34.7,35.2,35.7];

// ---------- helpers ----------
const pairs=f=>{const o=[];for(let i=0;i<f.length;i+=2)o.push({x:f[i],y:f[i+1]});return o};
const region=(f,c,t)=>({data:pairs(f),showLine:true,fill:'shape',backgroundColor:c,borderColor:c,borderWidth:.6,pointRadius:0,tension:t||0});
const segLine=(segs,c,w,extra)=>{const d=[];segs.forEach(s=>{d.push({x:s[0],y:s[1]},{x:s[2],y:s[3]},{x:null,y:null})});return Object.assign({data:d,showLine:true,fill:false,borderColor:c,borderWidth:w,pointRadius:0,tension:0,spanGaps:false},extra||{})};
const ordered=ds=>{ds.forEach((d,i)=>d.order=ds.length-i);return ds};
const frame={id:'frame',
 beforeDraw(ch){const y=ch.scales.y;if(!y||y.options.display===false)return;const it=y.getLabelItems();if(it._moved)return;it._moved=true;it.forEach(i=>{i.options.translation[1]+=2.5})},
 afterDraw(ch){const a=ch.chartArea,c=ch.ctx;c.save();c.strokeStyle='#000';c.lineWidth=1.67;c.strokeRect(a.left,a.top,a.right-a.left,a.bottom-a.top);c.restore()}};
Chart.defaults.font.family='"DejaVu Sans"';Chart.defaults.font.size=20.8;Chart.defaults.color='#000';Chart.defaults.animation=false;Chart.defaults.events=[];
const axis=(min,max,ticks,opt)=>{opt=opt||{};const a={type:'linear',min,max,afterBuildTicks:s=>{s.ticks=ticks.map(v=>({value:v}))},
  grid:{display:true,drawOnChartArea:false,drawTicks:true,tickLength:7.3,tickColor:'#000',tickWidth:1.67},border:{display:false},
  ticks:{autoSkip:false,maxRotation:0,minRotation:0,padding:opt.pad??6.5,color:'#000',callback:opt.cb||(v=>String(v).replace('-','−'))},
  afterFit:s=>{if(opt.w)s.width=opt.w;if(opt.h)s.height=opt.h}};
  if(opt.title)a.title={display:true,text:opt.title,color:'#000',font:{size:20.8},padding:opt.tp};
  return a};
function mk(left,top,w,h,cfg){const c=document.createElement('canvas');c.width=w;c.height=h;c.style.left=left+'px';c.style.top=top+'px';c.style.width=w+'px';c.style.height=h+'px';document.body.appendChild(c);
  cfg.options=Object.assign({responsive:false,animation:false,layout:cfg.layout,plugins:{legend:{display:false},tooltip:{enabled:false},title:{display:false}},scales:cfg.scales},cfg.options||{});
  cfg.plugins=[frame];delete cfg.layout;delete cfg.scales;return new Chart(c,cfg)}
const lineSet=(xs,ys,c,w,extra)=>Object.assign({data:xs.map((x,i)=>({x,y:ys[i]})),showLine:true,fill:false,borderColor:c,borderWidth:w,borderJoinStyle:'round',pointRadius:0,tension:0},extra||{});

// top-left
const kIdx=xkFinal.map((_,i)=>i), kjIdx=yjkFinal.map((_,i)=>i/10), k36Idx=yjkInitial.map((_,i)=>i);
mk(0,0,748,644,{type:'scatter',layout:{autoPadding:false,padding:{left:0,right:43,top:46,bottom:0}},
 data:{datasets:ordered([
  lineSet(kIdx,xkFinal,'#1f77b4',3.1),
  lineSet(kjIdx,yjkFinal,'#ff7f0e',3.1),
  lineSet(kIdx,xkInitial,'#000',3.1,{borderDash:[3.1,5.1],tension:.4}),
  lineSet(k36Idx,yjkInitial,'#000',3.1,{borderDash:[3.1,5.1],tension:.4})])},
 scales:{x:axis(-1.8,37.8,ticksTLx,{h:72,title:'k, k + j/J',tp:{top:0,bottom:3.5}}),y:axis(-4.71,9.18,ticksTLy,{w:71})}});
// top-right
mk(748,0,749,644,{type:'scatter',layout:{autoPadding:false,padding:{left:0,right:31,top:46,bottom:0}},
 data:{datasets:ordered([
  lineSet(tX0,x0Series,'#1f77b4',3.1,{cubicInterpolationMode:'monotone'}),
  lineSet(tY0,y0Series,'#ff7f0e',3.1,{cubicInterpolationMode:'monotone'})])},
 scales:{x:axis(-.25,5.25,ticksTRx,{h:72,title:'t',tp:{top:0,bottom:3.5}}),y:axis(-3.89,9.54,ticksTRy,{w:84})}});
// bottom-left contour
const soft=.3;
const xLayers=[region(xAll,cG),region(xTealUpper,cT,.2),region(xTealLower,cT)]
 .concat(xGreens.map(p=>region(p,cG,soft)),xBlues.map(p=>region(p,cB,soft)),dks.map(p=>region(p,cI,soft)),purples.map(p=>region(p,cD)),lights.map(p=>region(p,cL,soft)),yellows.map(p=>region(p,cY,soft)));
mk(0,644,748,469,{type:'scatter',layout:{autoPadding:false,padding:{left:0,right:43,top:33,bottom:0}},
 data:{datasets:ordered(xLayers)},
 scales:{x:axis(0,35,ticksTLx,{h:68,title:'k',tp:{top:0,bottom:1.5}}),y:axis(0,5,ticksKt,{w:71,title:'t',tp:{top:12.5,bottom:0}})}});
// bottom-right contour
const ySetsBase=[region([0,0,36,0,36,5,0,5],cT)].concat(yBlues.map(p=>region(p,cB,.2)));
const streakSegs=streakK.map((k,i)=>[k,streakLo[i],k,streakHi[i]]);
const fineSegs=streakFineK.map((k,i)=>[k,streakFineLo[i],k,streakFineHi[i]]);
const stripeLean=2.0;
const stripeSegs=stripeK0.map((k,i)=>[k,.7,k+stripeLean*(stripeTop[i]-.7),stripeTop[i]]);
const stripeBlue=stripeK0.map((k,i)=>[k+.24,.72,k+.24+stripeLean*(stripeTop[i]-.85),stripeTop[i]-.15]);
const blobSegs=blobK.map(k=>[k-.16,.53,k+.16,.66]);
const dashSegs=dashK.map((k,i)=>[k-.27,dashT[i]-.13,k+.27,dashT[i]+.13]);
const every3=(a,n)=>a.filter((_,i)=>i%3===n);
mk(748,644,749,469,{type:'scatter',layout:{autoPadding:false,padding:{left:0,right:31,top:33,bottom:0}},
 data:{datasets:ordered(ySetsBase.concat([
   segLine(streakSegs,cB,2),
   segLine(fineSegs,cB,1.6),
   segLine(stripeBlue,cB,1.2,{borderDash:[9,3]}),
   segLine(every3(stripeSegs,0),cG,2.6,{borderDash:[15,2]}),
   segLine(every3(stripeSegs,1),cG,2.6,{borderDash:[15,2],borderDashOffset:6}),
   segLine(every3(stripeSegs,2),cG,2.6,{borderDash:[15,2],borderDashOffset:11}),
   segLine(blobSegs,cG,3.4),
   segLine(dashSegs,cG,2.8),
   segLine(brightSegs,cL,2),
   segLine(yellowSegs,cY,2)]))},
 scales:{x:axis(0,36,ticksTLx,{h:68,title:'k + j/J',tp:{top:0,bottom:1.5}}),y:axis(0,5,ticksKt,{w:84,title:'t',tp:{top:24.5,bottom:0}})}});
// colour bars
function cbar(left,w,right,levels,labels){
 const axisOpt={h:51,pad:9};
 if(labels)axisOpt.cb=(v)=>labels[levels.indexOf(v)];
 return mk(left,1110,w,95,{type:'scatter',layout:{autoPadding:false,padding:{left:right[0],right:right[1],top:14,bottom:0}},
  data:{datasets:viridisBands.map((c,i)=>region([levels[i],0,levels[i+1],0,levels[i+1],1,levels[i],1],c))},
  scales:{x:axis(levels[0],levels[7],levels,axisOpt),y:{type:'linear',min:0,max:1,display:false}}})}
cbar(0,748,[71,43],levelsX,null);
cbar(748,749,[84,31],levelsY,levelLabelsY);

// HTML legends (mathematical labels)
function legend(x,y,w,h,rows){const b=document.createElement('div');b.className='box';b.style.cssText=`left:${x}px;top:${y}px;width:${w}px;height:${h}px;z-index:2`;document.body.appendChild(b);
 rows.forEach(r=>{const hd=document.createElement('div');hd.className='hd';hd.style.cssText=`left:${x+5}px;top:${r.y-1.5}px;width:33px;z-index:3;`+(r.dot?'background:repeating-linear-gradient(90deg,#000 0 3px,transparent 3px 8.2px)':`background:${r.c}`);document.body.appendChild(hd);
  const t=document.createElement('div');t.className='lg';t.innerHTML=r.t;t.style.cssText=`left:${x+47}px;top:${r.y-8}px;z-index:3`;document.body.appendChild(t)})}
const labXf='<i>X<sub>k</sub></i>(<i>t</i> = <i>n<sub>t</sub>dt</i>)',labYf='<i>Y<sub>j,k</sub></i>(<i>t</i> = <i>n<sub>t</sub>dt</i>)',labX0='<i>X<sub>k</sub></i>(<i>t</i> = 0)',labY0='<i>Y<sub>j,k</sub></i>(<i>t</i> = 0)';
legend(558,54,140,107,[{y:69,c:'#1f77b4',t:labXf},{y:93,c:'#ff7f0e',t:labYf},{y:120,dot:1,t:labX0},{y:145,dot:1,t:labY0}]);
legend(839,54,98,55,[{y:69,c:'#1f77b4',t:'<i>X</i><sub>0</sub>(<i>t</i>)'},{y:94,c:'#ff7f0e',t:'<i>Y</i><sub>0,0</sub>(<i>t</i>)'}]);
</script></body></html>
